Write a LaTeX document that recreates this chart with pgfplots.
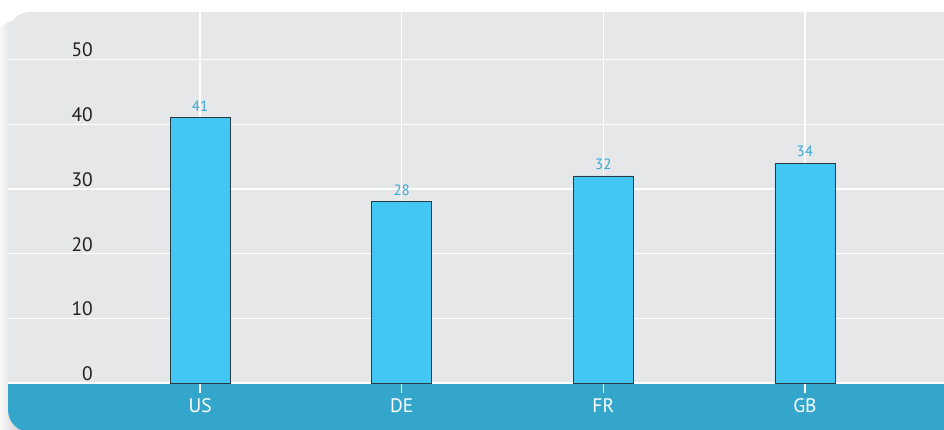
\documentclass[border=0pt]{standalone}
\usepackage{pgfplots}
\pgfplotsset{compat=1.18}
\usepackage{fontspec}
\setmainfont{PT Sans}
\definecolor{panelbg}{HTML}{E6E7E9}
\definecolor{bandblue}{HTML}{35A6CB}
\definecolor{barblue}{HTML}{42C7F4}
\definecolor{baredge}{HTML}{2B3B42}
\definecolor{vallabel}{HTML}{3AA9D3}
\definecolor{ticktext}{HTML}{231F20}
\begin{document}
\begin{tikzpicture}[x=1pt,y=1pt]
\useasboundingbox (0,0) rectangle (944,430);
\clip (0,0) rectangle (944,430);
\fill[white] (0,0) rectangle (944,430);
% shadow
\shade[left color=white, right color=black!32, rounded corners=22pt] (-4,-10) rectangle (40,410);
% panel
\fill[panelbg, rounded corners=22pt] (8,-2) rectangle (980,418);
% bottom band
\fill[bandblue] (8,47) {[rounded corners=22pt] -- (8,-2) -- (980,-2)} -- (980,47) -- cycle;
\begin{axis}[
  at={(8pt,47pt)}, anchor=south west,
  scale only axis, width=936pt, height=371pt,
  xmin=-0.953, xmax=3.69, ymin=0, ymax=57.34,
  axis line style={draw=none},
  xtick={0,1,2,3}, xticklabels={US,DE,FR,GB},
  ytick={0,10,20,30,40,50},
  xmajorgrids, ymajorgrids,
  grid style={white, line width=1.3pt},
  tick align=outside, major tick length=10pt,
  xtick style={draw=white, line width=1.3pt},
  ytick style={draw=none},
  /pgf/number format/assume math mode=true,
  xticklabel style={text=white, font=\fontsize{19.5}{19.5}\selectfont, anchor=base, inner sep=0pt, yshift=-20pt},
  yticklabel style={text=ticktext, font=\fontsize{19.5}{19.5}\selectfont, anchor=base east, inner sep=0pt, xshift=95pt, yshift=2.5pt},
  ybar, bar width=60pt,
  nodes near coords,
  every node near coord/.append style={text=vallabel, font=\fontsize{15}{15}\selectfont, anchor=base, inner sep=0pt, yshift=6.5pt},
  clip=false,
]
\addplot[fill=barblue, draw=baredge, line width=0.8pt] coordinates {(0,41) (1,28) (2,32) (3,34)};
\end{axis}
\end{tikzpicture}
\end{document}
